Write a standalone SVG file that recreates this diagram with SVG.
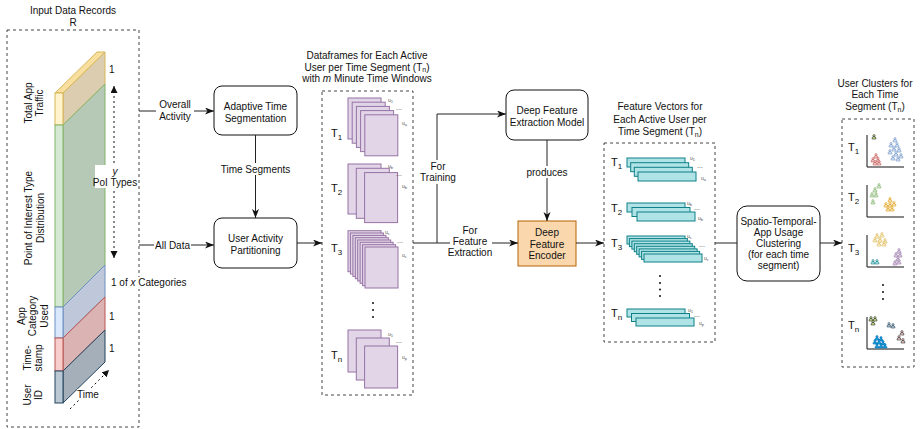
<svg xmlns="http://www.w3.org/2000/svg" xmlns:xlink="http://www.w3.org/1999/xlink" width="920" height="429" viewBox="0 0 920 429">
<defs>
<style>
text{font-family:"Liberation Sans",Arial,sans-serif;font-size:10px;fill:#111}
.c{text-anchor:middle}
.dbox{fill:none;stroke:#444;stroke-width:1;stroke-dasharray:3 3}
.box{fill:#fff;stroke:#111;stroke-width:1}
.ln{fill:none;stroke:#222;stroke-width:1}
.pg{fill:#e1d5e7;stroke:#9673a6;stroke-width:1}
.bar{fill:#b0e3e6;stroke:#0e8088;stroke-width:1}
.u{font-size:5px;fill:#555}
.dd{font-size:7px;fill:#444}
.T{font-size:11px}
.ax{fill:none;stroke:#111;stroke-width:1}
.bg{fill:#fff}
</style>
<marker id="ar" markerUnits="userSpaceOnUse" markerWidth="10" markerHeight="8" refX="9" refY="3.5" orient="auto"><path d="M0,0 L9,3.5 L0,7 L2.5,3.5 z" fill="#111"/></marker>
<marker id="ad" markerUnits="userSpaceOnUse" markerWidth="8" markerHeight="8" refX="7" refY="3.5" orient="auto-start-reverse"><path d="M0,0 L7,3.5 L0,7 z" fill="#111"/></marker>
<g id="p"><circle cx="0" cy="-1.3" r="1.1"/><path d="M-1.9,2 V1.2 a1.9,1.5 0 0 1 3.8,0 V2 z"/></g>
</defs>

<!-- Input data records -->
<g id="input">
<text class="c" x="73" y="14">Input Data Records</text>
<text class="c" x="73" y="26">R</text>
<rect class="dbox" x="7" y="30" width="132" height="397"/>
<!-- side faces -->
<polygon points="63,93 105,52 105,84 63,125" fill="#dccdb1" stroke="#d6b656"/>
<polygon points="63,125 105,84 105,265 63,307" fill="#b6c9b6" stroke="#82b366"/>
<polygon points="63,307 105,265 105,297 63,338" fill="#bfc8db" stroke="#6c8ebf"/>
<polygon points="63,338 105,297 105,330 63,371" fill="#dbb3b3" stroke="#b85450"/>
<polygon points="63,371 105,330 105,362 63,403" fill="#a5afba" stroke="#23445d"/>
<!-- top -->
<polygon points="55,93 63,93 105,52 97,52" fill="#f8df9f" stroke="#d6b656"/>
<!-- front faces -->
<rect x="55" y="93" width="8" height="32" fill="#fff2cc" stroke="#d6b656"/>
<rect x="55" y="125" width="8" height="182" fill="#d5e8d4" stroke="#82b366"/>
<rect x="55" y="307" width="8" height="31" fill="#dae8fc" stroke="#6c8ebf"/>
<rect x="55" y="338" width="8" height="33" fill="#f8cecc" stroke="#b85450"/>
<rect x="55" y="371" width="8" height="32" fill="#bac8d3" stroke="#23445d"/>
<!-- rotated labels -->
<text class="c" transform="translate(32,103) rotate(-90)">Total App</text>
<text class="c" transform="translate(43,103) rotate(-90)">Traffic</text>
<text class="c" transform="translate(32,218) rotate(-90)">Point of Interest Type</text>
<text class="c" transform="translate(44,218) rotate(-90)">Distribution</text>
<text class="c" transform="translate(24.5,316) rotate(-90)">App</text>
<text class="c" transform="translate(36,316) rotate(-90)">Category</text>
<text class="c" transform="translate(47.5,316) rotate(-90)">Used</text>
<text class="c" transform="translate(31,358) rotate(-90)">Time-</text>
<text class="c" transform="translate(42,358) rotate(-90)">stamp</text>
<text class="c" transform="translate(31,395) rotate(-90)">User</text>
<text class="c" transform="translate(42,395) rotate(-90)">ID</text>
<!-- side labels -->
<text x="109" y="73">1</text>
<line x1="114" y1="86" x2="114" y2="258" stroke="#111" stroke-dasharray="2 3" marker-start="url(#ad)" marker-end="url(#ad)"/>
<rect class="bg" x="95" y="165" width="40" height="23"/>
<text class="c" x="115" y="175" font-style="italic">y</text>
<text class="c" x="115" y="186">PoI Types</text>
<rect class="bg" x="110" y="277" width="78" height="12"/>
<text x="111" y="286">1 of <tspan font-style="italic">x</tspan> Categories</text>
<text x="109" y="320">1</text>
<text x="109" y="352">1</text>
<line x1="70" y1="409" x2="109" y2="370" stroke="#111" stroke-dasharray="2 3" marker-end="url(#ad)"/>
<rect class="bg" x="77" y="389" width="21" height="10"/>
<text class="c" x="88" y="398">Time</text>
</g>

<!-- process boxes -->
<g id="adaptive">
<rect class="box" x="214" y="86" width="83" height="49" rx="8"/>
<text class="c" x="255.5" y="110">Adaptive Time</text>
<text class="c" x="255.5" y="122">Segmentation</text>
</g>
<g id="partition">
<rect class="box" x="214" y="218" width="83" height="50" rx="8"/>
<text class="c" x="255.5" y="242">User Activity</text>
<text class="c" x="255.5" y="254">Partitioning</text>
</g>

<!-- dataframes -->
<g id="dataframes">
<text class="c" x="367" y="59">Dataframes for Each Active</text>
<text class="c" x="367" y="71">User per Time Segment (T<tspan font-size="7" dy="1">n</tspan><tspan dy="-1">)</tspan></text>
<text class="c" x="367" y="82">with <tspan font-style="italic">m</tspan> Minute Time Windows</text>
<rect class="dbox" x="322" y="91" width="91" height="304"/>
<text class="T" x="331" y="137">T<tspan font-size="8" dy="3">1</tspan></text>
<rect class="pg" x="348" y="98" width="33" height="41"/>
<rect class="pg" x="352.2" y="102.2" width="33" height="41"/>
<rect class="pg" x="356.4" y="106.4" width="33" height="41"/>
<rect class="pg" x="360.6" y="110.6" width="33" height="41"/>
<rect class="pg" x="364.8" y="114.8" width="33" height="41"/>
<text class="u" x="388" y="102">u<tspan font-size="4" dy="1">1</tspan></text>
<text class="dd" x="396" y="110">...</text>
<text class="u" x="402" y="125">u<tspan font-size="4" dy="1">a</tspan></text>

<text class="T" x="331" y="192">T<tspan font-size="8" dy="3">2</tspan></text>
<rect class="pg" x="348" y="164" width="33" height="50"/>
<rect class="pg" x="356.3" y="168.3" width="33" height="50"/>
<rect class="pg" x="364.6" y="172.6" width="33" height="50"/>
<text class="u" x="388" y="168">u<tspan font-size="4" dy="1">b</tspan></text>
<text class="dd" x="396" y="176">...</text>
<text class="u" x="402" y="188">u<tspan font-size="4" dy="1">b</tspan></text>

<text class="T" x="331" y="252">T<tspan font-size="8" dy="3">3</tspan></text>
<rect class="pg" x="348" y="230.7" width="33" height="41"/>
<rect class="pg" x="350.4" y="233" width="33" height="41"/>
<rect class="pg" x="352.9" y="235.4" width="33" height="41"/>
<rect class="pg" x="355.3" y="237.7" width="33" height="41"/>
<rect class="pg" x="357.7" y="240" width="33" height="41"/>
<rect class="pg" x="360.1" y="242.3" width="33" height="41"/>
<rect class="pg" x="362.6" y="244.7" width="33" height="41"/>
<rect class="pg" x="365" y="247" width="33" height="41"/>
<text class="u" x="385" y="234">u<tspan font-size="4" dy="1">c</tspan></text>
<text class="dd" x="397" y="243">...</text>
<text class="u" x="402" y="257">u<tspan font-size="4" dy="1">c</tspan></text>

<circle cx="373" cy="303" r="1" fill="#111"/>
<circle cx="373" cy="310" r="1" fill="#111"/>
<circle cx="373" cy="317" r="1" fill="#111"/>

<text class="T" x="331" y="359">T<tspan font-size="8" dy="3">n</tspan></text>
<rect class="pg" x="348" y="330" width="33" height="42"/>
<rect class="pg" x="356.3" y="338" width="33" height="42"/>
<rect class="pg" x="364.6" y="346" width="33" height="42"/>
<text class="u" x="388" y="336">u<tspan font-size="4" dy="1">1</tspan></text>
<text class="dd" x="396" y="343">...</text>
<text class="u" x="402" y="359">u<tspan font-size="4" dy="1">p</tspan></text>
</g>

<!-- deep feature model -->
<g id="model">
<rect class="box" x="506" y="90" width="82" height="50" rx="8"/>
<text class="c" x="547" y="114">Deep Feature</text>
<text class="c" x="547" y="126">Extraction Model</text>
</g>
<g id="encoder">
<rect x="518" y="221" width="58" height="45" fill="#fad7ac" stroke="#b46504"/>
<text class="c" x="547" y="236">Deep</text>
<text class="c" x="547" y="248">Feature</text>
<text class="c" x="547" y="259">Encoder</text>
</g>

<!-- feature vectors -->
<g id="features">
<text class="c" x="660" y="110">Feature Vectors for</text>
<text class="c" x="660" y="123">Each Active User per</text>
<text class="c" x="660" y="135">Time Segment (T<tspan font-size="7" dy="2">n</tspan><tspan dy="-2">)</tspan></text>
<rect class="dbox" x="604" y="143" width="111" height="199"/>
<text class="T" x="611" y="166">T<tspan font-size="8" dy="3">1</tspan></text>
<rect class="bar" x="627" y="158" width="58" height="9"/>
<rect class="bar" x="630.7" y="162.7" width="58" height="9"/>
<rect class="bar" x="634.3" y="167.3" width="58" height="9"/>
<rect class="bar" x="638" y="172" width="58" height="9"/>
<text class="u" x="690" y="160">u<tspan font-size="4" dy="1">1</tspan></text>
<text class="dd" x="697" y="168">...</text>
<text class="u" x="701" y="180">u<tspan font-size="4" dy="1">a</tspan></text>

<text class="T" x="611" y="212">T<tspan font-size="8" dy="3">2</tspan></text>
<rect class="bar" x="627" y="203" width="58" height="9"/>
<rect class="bar" x="632" y="207.5" width="58" height="9"/>
<rect class="bar" x="637" y="212" width="58" height="9"/>
<text class="u" x="687" y="205">u<tspan font-size="4" dy="1">b</tspan></text>
<text class="dd" x="694" y="210">...</text>
<text class="u" x="698" y="220">u<tspan font-size="4" dy="1">b</tspan></text>

<text class="T" x="611" y="247">T<tspan font-size="8" dy="3">3</tspan></text>
<rect class="bar" x="627" y="236" width="58" height="8"/>
<rect class="bar" x="629.4" y="238.6" width="58" height="8"/>
<rect class="bar" x="631.9" y="241.1" width="58" height="8"/>
<rect class="bar" x="634.3" y="243.7" width="58" height="8"/>
<rect class="bar" x="636.7" y="246.3" width="58" height="8"/>
<rect class="bar" x="639.1" y="248.9" width="58" height="8"/>
<rect class="bar" x="641.6" y="251.4" width="58" height="8"/>
<rect class="bar" x="644" y="254" width="58" height="8"/>
<text class="u" x="687" y="238">u<tspan font-size="4" dy="1">c</tspan></text>
<text class="dd" x="699" y="247">...</text>
<text class="u" x="704" y="260">u<tspan font-size="4" dy="1">c</tspan></text>

<circle cx="660" cy="276" r="1" fill="#111"/>
<circle cx="660" cy="283" r="1" fill="#111"/>
<circle cx="660" cy="289.5" r="1" fill="#111"/>
<circle cx="660" cy="296" r="1" fill="#111"/>

<text class="T" x="611" y="317">T<tspan font-size="8" dy="3">n</tspan></text>
<rect class="bar" x="627" y="309" width="58" height="8"/>
<rect class="bar" x="631.5" y="313.5" width="58" height="8"/>
<rect class="bar" x="636" y="318" width="58" height="8"/>
<text class="u" x="688" y="312">u<tspan font-size="4" dy="1">1</tspan></text>
<text class="dd" x="694" y="317">...</text>
<text class="u" x="699" y="325">u<tspan font-size="4" dy="1">p</tspan></text>
</g>

<!-- clustering -->
<g id="clustering">
<rect class="box" x="737" y="206" width="83" height="75" rx="10"/>
<text class="c" x="778.5" y="225">Spatio-Temporal-</text>
<text class="c" x="778.5" y="236">App Usage</text>
<text class="c" x="778.5" y="247">Clustering</text>
<text class="c" x="778.5" y="258">(for each time</text>
<text class="c" x="778.5" y="269">segment)</text>
</g>

<!-- clusters -->
<g id="clusters">
<text class="c" x="875" y="87">User Clusters for</text>
<text class="c" x="875" y="98">Each Time</text>
<text class="c" x="875" y="110">Segment (T<tspan font-size="7" dy="2">n</tspan><tspan dy="-2">)</tspan></text>
<rect class="dbox" x="842" y="119" width="72" height="248"/>

<text class="T" x="848" y="151">T<tspan font-size="8" dy="3">1</tspan></text>
<path class="ax" d="M867,135 V167 H904"/>
<g stroke-width="0.6">
<use xlink:href="#p" x="874" y="137" fill="#cdeb8b" stroke="#222"/>
<g fill="#f8cecc" stroke="#b85450">
<use xlink:href="#p" x="876" y="156"/><use xlink:href="#p" x="873" y="160"/><use xlink:href="#p" x="878" y="160"/><use xlink:href="#p" x="875" y="163"/><use xlink:href="#p" x="879" y="163"/>
</g>
<g fill="#dae8fc" stroke="#6c8ebf">
<use xlink:href="#p" x="895" y="140"/><use xlink:href="#p" x="891" y="145"/><use xlink:href="#p" x="897" y="145"/><use xlink:href="#p" x="894" y="149"/><use xlink:href="#p" x="899" y="150"/><use xlink:href="#p" x="890" y="152"/><use xlink:href="#p" x="896" y="154"/><use xlink:href="#p" x="901" y="156"/><use xlink:href="#p" x="893" y="158"/><use xlink:href="#p" x="898" y="159"/>
</g>
</g>

<text class="T" x="848" y="201">T<tspan font-size="8" dy="3">2</tspan></text>
<path class="ax" d="M867,185 V217 H904"/>
<g stroke-width="0.6">
<g fill="#d5e8d4" stroke="#82b366">
<use xlink:href="#p" x="879" y="186"/><use xlink:href="#p" x="875" y="190"/><use xlink:href="#p" x="872" y="195"/><use xlink:href="#p" x="876" y="195"/><use xlink:href="#p" x="873" y="202"/>
</g>
<g fill="#ffe6cc" stroke="#d79b00">
<use xlink:href="#p" x="890" y="200"/><use xlink:href="#p" x="886" y="205"/><use xlink:href="#p" x="890" y="205"/><use xlink:href="#p" x="894" y="204"/><use xlink:href="#p" x="888" y="209"/><use xlink:href="#p" x="892" y="209"/>
</g>
</g>

<text class="T" x="848" y="252">T<tspan font-size="8" dy="3">3</tspan></text>
<path class="ax" d="M867,235 V267 H904"/>
<g stroke-width="0.6">
<g fill="#fff2cc" stroke="#d6b656">
<use xlink:href="#p" x="877" y="236"/><use xlink:href="#p" x="882" y="235"/><use xlink:href="#p" x="875" y="240"/><use xlink:href="#p" x="880" y="240"/><use xlink:href="#p" x="885" y="241"/><use xlink:href="#p" x="879" y="244"/><use xlink:href="#p" x="884" y="244"/>
</g>
<g fill="#e1d5e7" stroke="#9673a6">
<use xlink:href="#p" x="899" y="251"/><use xlink:href="#p" x="896" y="255"/><use xlink:href="#p" x="900" y="255"/><use xlink:href="#p" x="898" y="259"/><use xlink:href="#p" x="895" y="263"/><use xlink:href="#p" x="899" y="262"/>
</g>
<g fill="#b0e3e6" stroke="#0e8088">
<use xlink:href="#p" x="873" y="262"/><use xlink:href="#p" x="877" y="262"/>
</g>
</g>

<circle cx="883" cy="285" r="1" fill="#111"/>
<circle cx="883" cy="292" r="1" fill="#111"/>
<circle cx="883" cy="299" r="1" fill="#111"/>

<text class="T" x="848" y="329">T<tspan font-size="8" dy="3">n</tspan></text>
<path class="ax" d="M867,317 V349 H904"/>
<g stroke-width="0.6">
<g fill="#cdeb8b" stroke="#222">
<use xlink:href="#p" x="871" y="319"/><use xlink:href="#p" x="875" y="319"/><use xlink:href="#p" x="873" y="323"/>
</g>
<g fill="#bac8d3" stroke="#23445d">
<use xlink:href="#p" x="889" y="325"/><use xlink:href="#p" x="893" y="326"/>
</g>
<g fill="#1ba1e2" stroke="#006eaf">
<use xlink:href="#p" x="877" y="338"/><use xlink:href="#p" x="881" y="339"/><use xlink:href="#p" x="875" y="342"/><use xlink:href="#p" x="879" y="342"/><use xlink:href="#p" x="883" y="343"/><use xlink:href="#p" x="877" y="346"/><use xlink:href="#p" x="881" y="346"/><use xlink:href="#p" x="885" y="346"/>
</g>
<g fill="#f8cecc" stroke="#222">
<use xlink:href="#p" x="902" y="333"/><use xlink:href="#p" x="899" y="338"/><use xlink:href="#p" x="903" y="341"/>
</g>
</g>
</g>

<!-- connectors -->
<g id="connectors">
<line class="ln" x1="139" y1="111" x2="214" y2="111" marker-end="url(#ar)"/>
<rect class="bg" x="156" y="99" width="38" height="23"/>
<text class="c" x="175" y="108">Overall</text>
<text class="c" x="175" y="120">Activity</text>

<line class="ln" x1="139" y1="245" x2="214" y2="245" marker-end="url(#ar)"/>
<rect class="bg" x="154" y="239" width="37" height="12"/>
<text class="c" x="172.5" y="248.5">All Data</text>

<line class="ln" x1="255.5" y1="135" x2="255.5" y2="218" marker-end="url(#ar)"/>
<rect class="bg" x="222" y="163" width="67" height="12"/>
<text class="c" x="255.5" y="172.5">Time Segments</text>

<line class="ln" x1="297" y1="243" x2="322" y2="243" marker-end="url(#ar)"/>

<path class="ln" d="M413,243 H437 V114 H506" marker-end="url(#ar)"/>
<rect class="bg" x="421" y="160" width="35" height="24"/>
<text class="c" x="438" y="170">For</text>
<text class="c" x="438" y="181">Training</text>

<line class="ln" x1="437" y1="243" x2="518" y2="243" marker-end="url(#ar)"/>
<rect class="bg" x="450" y="224" width="42" height="34"/>
<text class="c" x="470" y="234">For</text>
<text class="c" x="470" y="245">Feature</text>
<text class="c" x="470" y="256">Extraction</text>

<line class="ln" x1="547" y1="140" x2="547" y2="221" marker-end="url(#ar)"/>
<rect class="bg" x="526" y="166" width="42" height="12"/>
<text class="c" x="547" y="175.5">produces</text>

<line class="ln" x1="576" y1="243" x2="604" y2="243" marker-end="url(#ar)"/>
<line class="ln" x1="715" y1="243" x2="737" y2="243"/>
<line class="ln" x1="820" y1="243" x2="842" y2="243" marker-end="url(#ar)"/>
</g>
</svg>
